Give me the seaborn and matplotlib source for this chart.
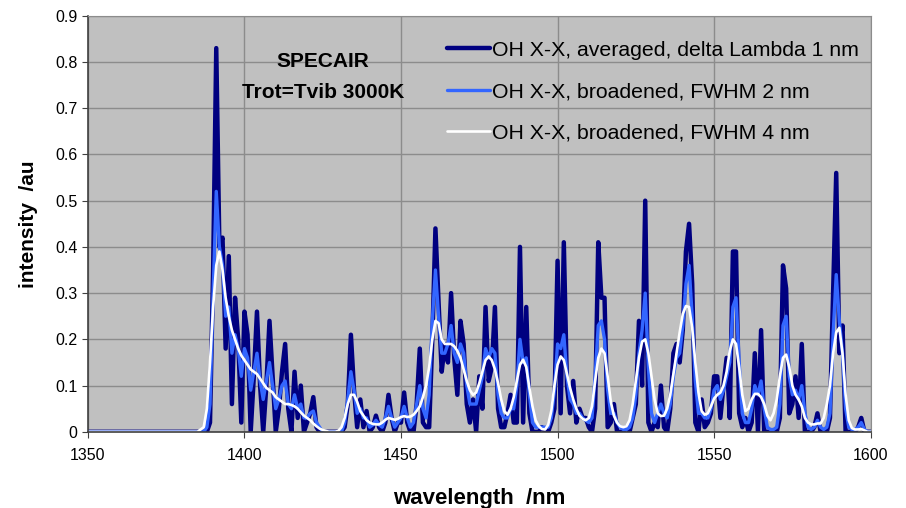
import numpy as np
import pandas as pd
import matplotlib
matplotlib.use("Agg")
import matplotlib.pyplot as plt
import seaborn as sns

# wavelength grid, 1 nm steps; spectra are zero below 1385 nm
wavelength = np.arange(1350, 1601)

# OH X-X, averaged, delta Lambda 1 nm  (1385..1600 nm)
averaged = [
    0, 0, 0, 0, 0.02, 0.35, 0.83, 0.40, 0.42, 0.18,
    0.38, 0.06, 0.29, 0.20, 0.02, 0.26, 0.21, 0.00, 0.12, 0.26,
    0.10, 0.00, 0.10, 0.24, 0.12, 0.00, 0.05, 0.13, 0.19, 0.05,
    0.00, 0.13, 0.03, 0.10, 0.00, 0.02, 0.04, 0.075, 0.01, 0.0,
    0, 0, 0, 0, 0, 0, 0, 0.01, 0.06, 0.21,
    0.09, 0.01, 0.07, 0.01, 0.045, 0.0, 0.01, 0.035, 0.01, 0.0,
    0.02, 0.08, 0.03, 0.0, 0.02, 0.02, 0.085, 0.02, 0.0, 0.0,
    0.06, 0.18, 0.02, 0.01, 0.01, 0.20, 0.44, 0.28, 0.13, 0.19,
    0.15, 0.30, 0.16, 0.08, 0.24, 0.19, 0.06, 0.02, 0.07, 0.00,
    0.12, 0.05, 0.27, 0.11, 0.14, 0.27, 0.05, 0.01, 0.01, 0.04,
    0.08, 0.02, 0.02, 0.40, 0.02, 0.27, 0.04, 0.0, 0.0, 0.0,
    0.01, 0.0, 0.0, 0.02, 0.05, 0.37, 0.04, 0.41, 0.10, 0.04,
    0.11, 0.02, 0.05, 0.03, 0.03, 0.01, 0.0, 0.05, 0.41, 0.29,
    0.29, 0.01, 0.02, 0.06, 0.0, 0.0, 0.0, 0.01, 0.0, 0.03,
    0.06, 0.24, 0.10, 0.50, 0.02, 0.0, 0.02, 0.01, 0.10, 0.01,
    0.0, 0.05, 0.17, 0.19, 0.15, 0.22, 0.39, 0.45, 0.32, 0.02,
    0.0, 0.07, 0.01, 0.02, 0.04, 0.12, 0.12, 0.03, 0.10, 0.16,
    0.03, 0.39, 0.39, 0.04, 0.01, 0.03, 0.0, 0.02, 0.17, 0.0,
    0.22, 0.0, 0.0, 0.0, 0.0, 0.0, 0.03, 0.36, 0.31, 0.04,
    0.06, 0.12, 0.03, 0.19, 0.0, 0.0, 0.0, 0.01, 0.04, 0.0,
    0.0, 0.0, 0.03, 0.30, 0.56, 0.17, 0.23, 0.0, 0.0, 0.0,
    0.0, 0.01, 0.03, 0.0, 0.0, 0.0,
]

# OH X-X, broadened, FWHM 2 nm
fwhm2 = [
    0, 0, 0, 0.01, 0.06, 0.30, 0.52, 0.40, 0.36, 0.25,
    0.27, 0.17, 0.21, 0.18, 0.12, 0.18, 0.16, 0.09, 0.13, 0.17,
    0.11, 0.07, 0.11, 0.15, 0.10, 0.05, 0.07, 0.10, 0.11, 0.06,
    0.05, 0.08, 0.05, 0.06, 0.03, 0.03, 0.04, 0.045, 0.02, 0.01,
    0, 0, 0, 0, 0, 0, 0, 0.02, 0.07, 0.13,
    0.09, 0.04, 0.05, 0.03, 0.03, 0.01, 0.015, 0.025, 0.015, 0.01,
    0.03, 0.055, 0.03, 0.01, 0.02, 0.03, 0.055, 0.03, 0.01, 0.02,
    0.06, 0.10, 0.05, 0.03, 0.08, 0.24, 0.35, 0.25, 0.17, 0.17,
    0.19, 0.23, 0.17, 0.15, 0.19, 0.17, 0.10, 0.06, 0.06, 0.06,
    0.09, 0.12, 0.18, 0.16, 0.18, 0.17, 0.08, 0.04, 0.03, 0.03,
    0.05, 0.05, 0.10, 0.20, 0.15, 0.16, 0.08, 0.02, 0.01, 0.01,
    0.01, 0.01, 0.01, 0.03, 0.09, 0.19, 0.18, 0.21, 0.12, 0.07,
    0.06, 0.04, 0.04, 0.03, 0.025, 0.02, 0.03, 0.12, 0.23, 0.24,
    0.20, 0.09, 0.04, 0.04, 0.02, 0.01, 0.005, 0.005, 0.01, 0.03,
    0.08, 0.17, 0.22, 0.30, 0.14, 0.04, 0.02, 0.04, 0.06, 0.04,
    0.03, 0.06, 0.12, 0.16, 0.17, 0.23, 0.32, 0.36, 0.25, 0.11,
    0.04, 0.04, 0.03, 0.03, 0.05, 0.09, 0.10, 0.07, 0.09, 0.12,
    0.15, 0.27, 0.29, 0.15, 0.04, 0.02, 0.02, 0.05, 0.10, 0.08,
    0.11, 0.05, 0.01, 0.005, 0.005, 0.01, 0.06, 0.23, 0.25, 0.12,
    0.08, 0.09, 0.07, 0.10, 0.04, 0.01, 0.005, 0.01, 0.025, 0.01,
    0.005, 0.01, 0.04, 0.21, 0.34, 0.24, 0.17, 0.05, 0.01, 0.005,
    0.005, 0.01, 0.02, 0.005, 0, 0,
]

# OH X-X, broadened, FWHM 4 nm
fwhm4 = [
    0, 0.005, 0.01, 0.05, 0.15, 0.27, 0.36, 0.39, 0.35, 0.29,
    0.25, 0.22, 0.20, 0.18, 0.165, 0.155, 0.145, 0.135, 0.13, 0.125,
    0.115, 0.105, 0.095, 0.09, 0.085, 0.075, 0.07, 0.065, 0.06, 0.06,
    0.058, 0.055, 0.05, 0.042, 0.035, 0.03, 0.025, 0.018, 0.012, 0.007,
    0.004, 0.002, 0, 0, 0, 0.002, 0.01, 0.03, 0.06, 0.08,
    0.08, 0.065, 0.045, 0.035, 0.025, 0.02, 0.017, 0.016, 0.016, 0.02,
    0.026, 0.03, 0.028, 0.026, 0.028, 0.032, 0.034, 0.032, 0.033, 0.037,
    0.045, 0.055, 0.075, 0.10, 0.14, 0.20, 0.24, 0.235, 0.20, 0.19,
    0.19, 0.19, 0.185, 0.175, 0.16, 0.135, 0.11, 0.09, 0.08, 0.085,
    0.105, 0.13, 0.155, 0.163, 0.155, 0.135, 0.105, 0.07, 0.045, 0.037,
    0.05, 0.075, 0.11, 0.145, 0.156, 0.14, 0.095, 0.055, 0.025, 0.012,
    0.006, 0.005, 0.015, 0.045, 0.10, 0.145, 0.163, 0.155, 0.125, 0.095,
    0.07, 0.05, 0.035, 0.028, 0.025, 0.03, 0.055, 0.11, 0.16, 0.18,
    0.17, 0.12, 0.065, 0.035, 0.02, 0.012, 0.01, 0.012, 0.025, 0.06,
    0.11, 0.16, 0.195, 0.20, 0.17, 0.12, 0.07, 0.04, 0.034, 0.035,
    0.05, 0.08, 0.125, 0.17, 0.215, 0.255, 0.272, 0.27, 0.225, 0.15,
    0.085, 0.045, 0.037, 0.04, 0.055, 0.072, 0.08, 0.085, 0.10, 0.13,
    0.175, 0.20, 0.19, 0.14, 0.08, 0.045, 0.05, 0.07, 0.082, 0.082,
    0.075, 0.06, 0.035, 0.025, 0.04, 0.07, 0.12, 0.16, 0.167, 0.14,
    0.10, 0.08, 0.07, 0.055, 0.03, 0.02, 0.016, 0.016, 0.018, 0.018,
    0.03, 0.06, 0.10, 0.17, 0.215, 0.225, 0.17, 0.08, 0.025, 0.008,
    0.005, 0.005, 0.006, 0.003, 0, 0,
]

below_onset = [0.0] * 35   # 1350..1384 nm, flat zero

labels = ["OH X-X, averaged, delta Lambda 1 nm",
          "OH X-X, broadened, FWHM 2 nm",
          "OH X-X, broadened, FWHM 4 nm"]
colors = ["#000080", "#3366FF", "#FFFFFF"]
widths = [3.2, 2.4, 1.9]

df = pd.DataFrame({
    "wavelength": wavelength,
    labels[0]: below_onset + averaged,
    labels[1]: below_onset + fwhm2,
    labels[2]: below_onset + fwhm4,
})

sns.set_style("white")
plt.rcParams["font.family"] = ["Liberation Sans", "DejaVu Sans"]
plt.rcParams["text.color"] = "black"
plt.rcParams["axes.labelcolor"] = "black"
plt.rcParams["xtick.color"] = "black"
plt.rcParams["ytick.color"] = "black"

fig = plt.figure(figsize=(9.06, 5.08), dpi=100)
ax = fig.add_axes([0.097, 0.150, 0.864, 0.819])
ax.set_facecolor("#C0C0C0")

for lab, col, lw in zip(labels, colors, widths):
    sns.lineplot(data=df, x="wavelength", y=lab, ax=ax, color=col,
                 linewidth=lw, label=lab, estimator=None)

ax.set_xlim(1350, 1600)
ax.set_ylim(0, 0.9)
ax.set_xticks(np.arange(1350, 1601, 50))
ax.set_yticks(np.arange(0, 0.91, 0.1))
ax.set_yticklabels(["0", "0.1", "0.2", "0.3", "0.4", "0.5", "0.6", "0.7", "0.8", "0.9"])
ax.grid(True, color="#8C8C8C", linewidth=1.0)
ax.set_axisbelow(True)
ax.tick_params(axis="both", labelsize=11.5, direction="out", length=4,
               color="#404040", left=True, bottom=True)
ax.tick_params(axis="x", pad=8)
for side in ["top", "right"]:
    ax.spines[side].set_color("#8C8C8C")
for side in ["left", "bottom"]:
    ax.spines[side].set_color("#404040")
    ax.spines[side].set_linewidth(1.2)

ax.set_xlabel("wavelength  /nm", fontsize=16, fontweight="bold", labelpad=18)
ax.set_ylabel("intensity  /au", fontsize=15, fontweight="bold", labelpad=12)

ax.text(1425, 0.80, "SPECAIR", fontsize=15, fontweight="bold", ha="center", va="center")
ax.text(1425, 0.735, "Trot=Tvib 3000K", fontsize=15, fontweight="bold", ha="center", va="center")

leg = ax.legend(loc="upper right", bbox_to_anchor=(0.985, 0.94), frameon=False,
                fontsize=15.3, handlelength=2.0, labelspacing=1.05,
                borderpad=0, borderaxespad=0, handletextpad=0.1)

fig.savefig("out.png", dpi=100)
